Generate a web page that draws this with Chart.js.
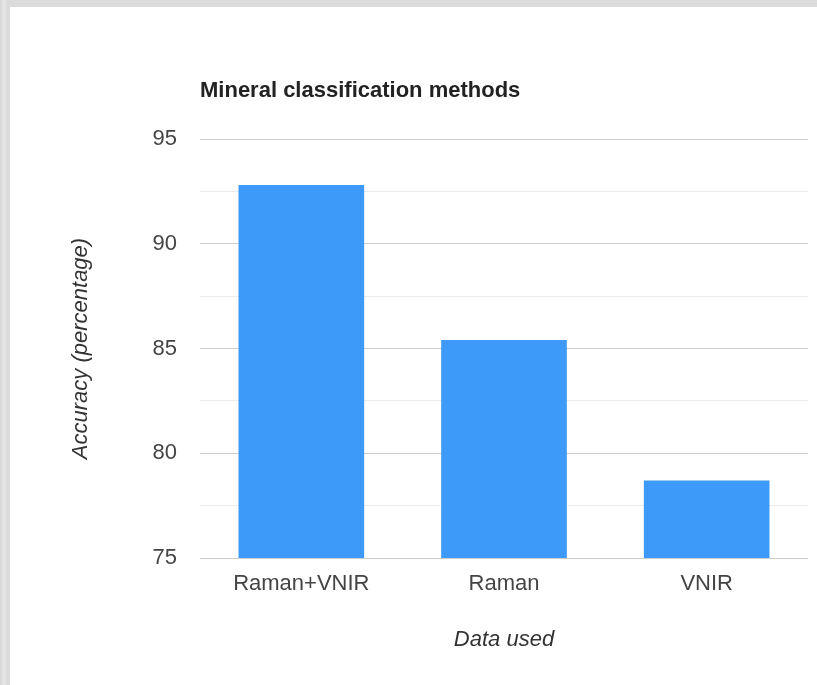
<!DOCTYPE html>
<html>
<head>
<meta charset="utf-8">
<script src="https://cdn.jsdelivr.net/npm/chart.js@4.4.0/dist/chart.umd.min.js"></script>
<style>
  html, body { margin: 0; padding: 0; }
  body {
    width: 817px; height: 685px; overflow: hidden; position: relative;
    background: linear-gradient(90deg, #d6d6d6 0px, #e8e8e8 4px, #d9d9d9 8px, #dcdcdc 10px);
  }
  #card { position: absolute; left: 10px; top: 7px; width: 807px; height: 678px; background: #fff; }
  #wrap { position: absolute; left: 0; top: 0; width: 817px; height: 685px; }
</style>
</head>
<body>
<div id="card"></div>
<div id="wrap"><canvas id="chart" width="817" height="685"></canvas></div>
<script>
// Classification accuracy by input data
const categories = ['Raman+VNIR', 'Raman', 'VNIR'];
const accuracy = [92.8, 85.4, 78.7];
const yMin = 75;
const yMax = 95;

const FONT = '"Liberation Sans", Arial, sans-serif';
const SIZE = 22;

new Chart(document.getElementById('chart'), {
  type: 'bar',
  data: {
    labels: categories,
    datasets: [{
      data: accuracy,
      backgroundColor: '#3d9af8',
      borderWidth: 0,
      categoryPercentage: 1.0,
      barPercentage: 0.62
    }]
  },
  options: {
    responsive: false,
    animation: false,
    layout: { padding: { left: 0, right: 9, top: 0, bottom: 0 } },
    plugins: {
      legend: { display: false },
      tooltip: { enabled: false },
      title: {
        display: true,
        text: 'Mineral classification methods',
        align: 'start',
        fullSize: false,
        color: '#222',
        font: { family: FONT, size: SIZE, weight: 'bold', lineHeight: 1.2 },
        padding: { top: 78, bottom: 34.6 }
      }
    },
    scales: {
      x: {
        grid: { display: false, drawTicks: false },
        border: { display: false },
        ticks: { color: '#444', font: { family: FONT, size: SIZE }, padding: 13, maxRotation: 0 },
        title: {
          display: true,
          text: 'Data used',
          color: '#333',
          font: { family: FONT, size: SIZE, style: 'italic', lineHeight: 1.2 },
          padding: { top: 0, bottom: 31.8 }
        },
        afterFit: (s) => { s.height = 127; }
      },
      y: {
        min: yMin,
        max: yMax,
        grid: {
          drawTicks: false,
          color: (ctx) => (ctx.tick && ctx.tick.value % 5 === 0) ? '#cccccc' : '#ebebeb',
          lineWidth: 1
        },
        border: { display: false },
        ticks: {
          stepSize: 2.5,
          color: '#444',
          font: { family: FONT, size: SIZE },
          padding: 23,
          callback: (v) => (v % 5 === 0 ? String(v) : '')
        },
        title: {
          display: true,
          text: 'Accuracy (percentage)',
          color: '#333',
          font: { family: FONT, size: SIZE, style: 'italic', lineHeight: 1.2 },
          padding: { top: 67.8, bottom: 0 }
        },
        afterFit: (s) => { s.width = 200; }
      }
    }
  }
});
</script>
</body>
</html>
